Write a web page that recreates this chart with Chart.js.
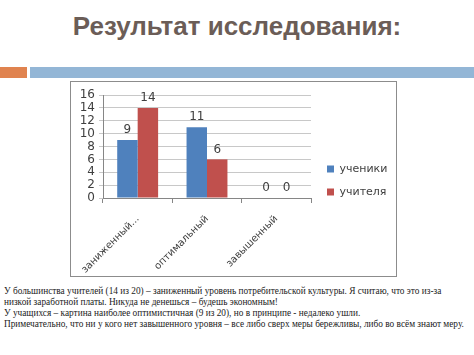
<!DOCTYPE html>
<html>
<head>
<meta charset="utf-8">
<script src="https://cdn.jsdelivr.net/npm/chart.js@4.4.1/dist/chart.umd.min.js"></script>
<style>
  html, body { margin: 0; padding: 0; background: #fff; }
  body { width: 474px; height: 355px; position: relative; overflow: hidden; }
  #title { position: absolute; left: 0; top: 10px; width: 474px; text-align: center;
    font-family: "Liberation Sans", Arial, sans-serif; font-weight: bold; font-size: 26px;
    color: #6b5d57; line-height: 32px; white-space: nowrap; }
  #barL { position: absolute; left: 0; top: 67px; width: 27px; height: 11px; background: #e0834f; }
  #barR { position: absolute; left: 30px; top: 67px; width: 444px; height: 11px; background: #93b6d6; }
  #box { position: absolute; left: 70px; top: 81px; width: 325px; height: 194px; border: 1px solid #8c8c8c; }
  #box canvas { display: block; }
  #text { position: absolute; left: 4px; top: 286px; font-family: "Liberation Serif", "Times New Roman", serif;
    font-size: 9.3px; line-height: 11px; color: #222; white-space: nowrap; }
</style>
</head>
<body>
<div id="title">Результат исследования:</div>
<div id="barL"></div>
<div id="barR"></div>
<div id="box"><canvas id="c" width="325" height="194"></canvas></div>
<div id="text">У большинства учителей (14 из 20) – заниженный уровень потребительской культуры. Я считаю, что это из-за<br>низкой заработной платы. Никуда не денешься – будешь экономным!<br>У учащихся – картина наиболее оптимистичная (9 из 20), но в принципе - недалеко ушли.<br>Примечательно, что ни у кого нет завышенного уровня – все либо сверх меры бережливы, либо во всём знают меру.</div>
<script>
const categories = ["заниженный...", "оптимальный", "завышенный"];
const seriesNames = ["ученики", "учителя"];
const students = [9, 11, 0];
const teachers = [14, 6, 0];
const yTicks = [0, 2, 4, 6, 8, 10, 12, 14, 16];

const valueLabels = {
  id: 'valueLabels',
  afterDatasetsDraw(chart) {
    const ctx = chart.ctx;
    ctx.save();
    ctx.font = '12px "DejaVu Sans"';
    ctx.fillStyle = '#404040';
    ctx.textAlign = 'center';
    ctx.textBaseline = 'bottom';
    chart.data.datasets.forEach((ds, i) => {
      const meta = chart.getDatasetMeta(i);
      meta.data.forEach((bar, j) => {
        ctx.fillText(String(ds.data[j]), bar.x, bar.y - 4);
      });
    });
    ctx.restore();
  }
};

const legendShift = {
  id: 'legendShift',
  afterLayout(chart) {
    const lg = chart.legend;
    if (lg) { lg.left += 4; lg.right += 4; lg.top -= 5; lg.bottom -= 5; }
  }
};

new Chart(document.getElementById('c'), {
  type: 'bar',
  data: {
    labels: categories,
    datasets: [
      { label: seriesNames[0], data: students, backgroundColor: '#4f81bd' },
      { label: seriesNames[1], data: teachers, backgroundColor: '#c0504d' }
    ]
  },
  options: {
    responsive: false,
    animation: false,
    events: [],
    layout: { padding: { left: 0, top: 13, right: 5, bottom: 0 } },
    datasets: { bar: { categoryPercentage: 0.59, barPercentage: 1.0 } },
    plugins: {
      legend: {
        position: 'right',
        align: 'center',
        labels: { boxWidth: 7, boxHeight: 7, padding: 12, color: '#404040',
          font: { family: 'DejaVu Sans', size: 11 } }
      },
      tooltip: { enabled: false },
      title: { display: false }
    },
    scales: {
      x: {
        afterFit(s) { s.height = 78; s.paddingLeft = 0; s.paddingRight = 0; },
        grid: { display: true, drawOnChartArea: false, drawTicks: true, tickLength: 5, color: '#868686', offset: true },
        border: { color: '#868686' },
        ticks: { minRotation: 45, maxRotation: 45, autoSkip: false, color: '#404040', padding: 10,
          font: { family: 'DejaVu Sans', size: 10 } }
      },
      y: {
        min: 0, max: 16,
        afterFit(s) { s.width = 32; },
        afterBuildTicks(s) { s.ticks = yTicks.map(v => ({ value: v })); },
        grid: { color: '#c8c8c8', tickLength: 4 },
        border: { color: '#868686' },
        ticks: { color: '#404040', padding: 4, autoSkip: false, font: { family: 'DejaVu Sans', size: 12 } }
      }
    }
  },
  plugins: [valueLabels, legendShift]
});
</script>
</body>
</html>
